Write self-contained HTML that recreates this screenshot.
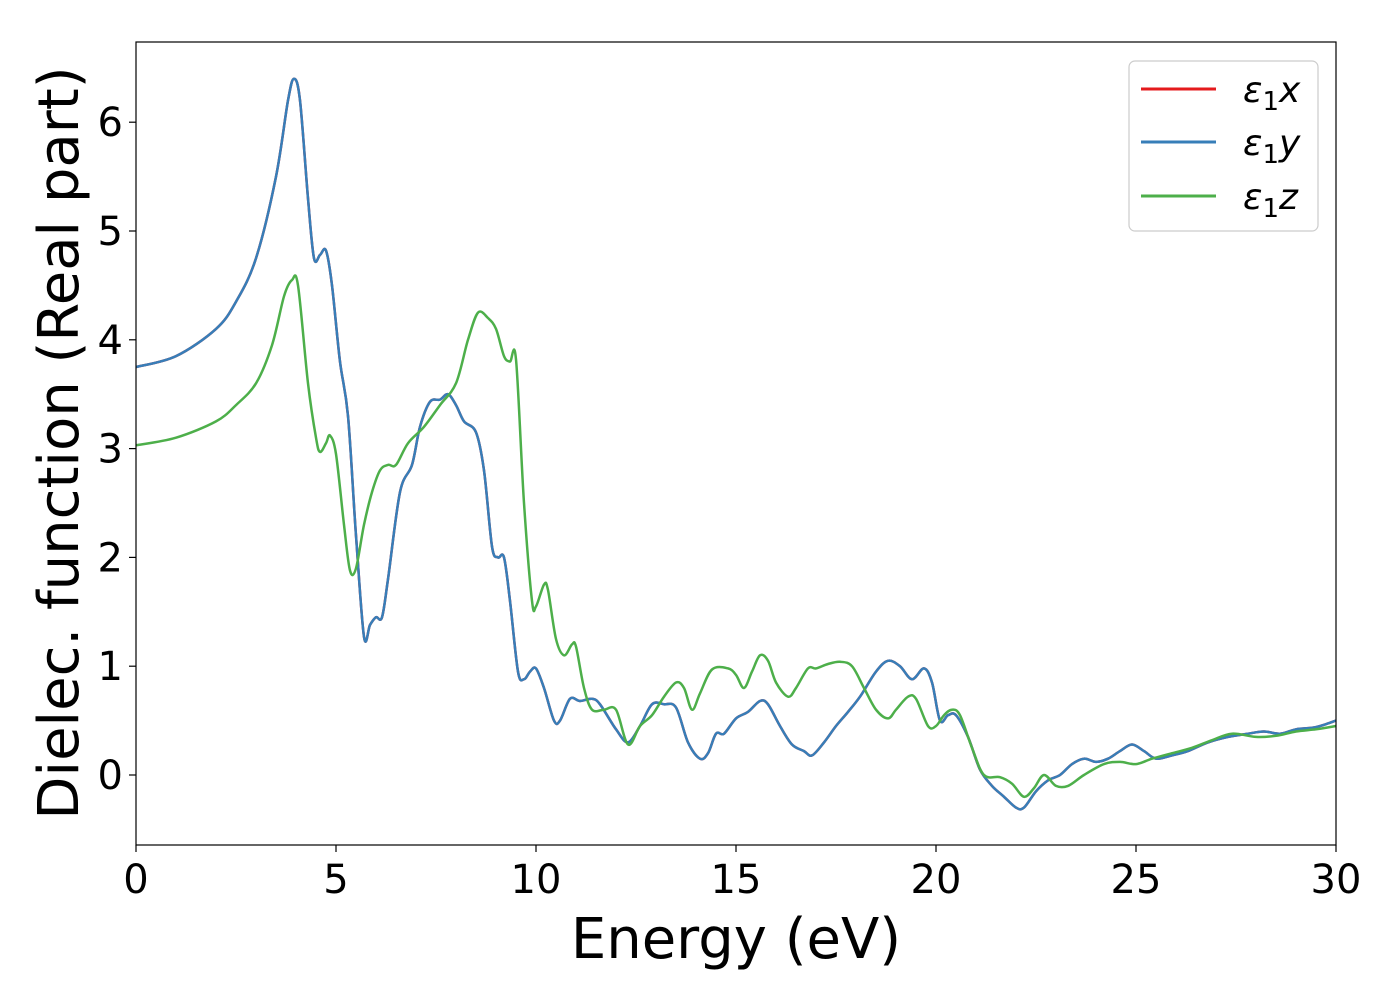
<!DOCTYPE html>
<html><head><meta charset="utf-8"><style>
body{margin:0;background:#fff;}
svg{display:block;font-family:"DejaVu Sans","Liberation Sans",sans-serif;}
</style></head><body>
<svg id="chart" width="1400" height="1000" viewBox="0 0 1400 1000">
<rect x="0" y="0" width="1400" height="1000" fill="#fff"/>
<g id="series"></g>
<rect x="136" y="42" width="1200" height="803" fill="none" stroke="#000" stroke-width="1.2"/>
<g id="xticks"></g>
<g id="yticks"></g>
<text x="736" y="958" font-size="56" text-anchor="middle">Energy (eV)</text>
<text transform="translate(78,443) rotate(-90)" font-size="56" text-anchor="middle">Dielec. function (Real part)</text>
<g>
<rect x="1129" y="61" width="189" height="170" rx="6" fill="#fff" stroke="#ccc" stroke-width="1.2"/>
<line x1="1141" y1="89" x2="1216" y2="89" stroke="#e41a1c" stroke-width="3"/>
<text x="1243" y="102" font-size="36" font-style="italic">ε<tspan font-style="normal" font-size="26" dy="8">1</tspan><tspan dy="-8">x</tspan></text>
<line x1="1141" y1="142" x2="1216" y2="142" stroke="#377eb8" stroke-width="3"/>
<text x="1243" y="155" font-size="36" font-style="italic">ε<tspan font-style="normal" font-size="26" dy="8">1</tspan><tspan dy="-8">y</tspan></text>
<line x1="1141" y1="196" x2="1216" y2="196" stroke="#4daf4a" stroke-width="3"/>
<text x="1243" y="209" font-size="36" font-style="italic">ε<tspan font-style="normal" font-size="26" dy="8">1</tspan><tspan dy="-8">z</tspan></text>
</g>
</svg>
<script>
const xTicks=[0,5,10,15,20,25,30];
const yTicks=[0,1,2,3,4,5,6];
const energyXY=[0,1,2,2.5,3,3.5,3.8,3.95,4.1,4.3,4.45,4.6,4.75,4.9,5.1,5.3,5.5,5.7,5.85,6.0,6.15,6.3,6.6,6.9,7.1,7.35,7.6,7.8,8.0,8.2,8.5,8.7,8.9,9.05,9.2,9.35,9.55,9.7,9.85,10.0,10.2,10.45,10.6,10.85,11.1,11.4,11.6,12.0,12.3,12.6,12.9,13.2,13.5,13.8,14.1,14.3,14.5,14.7,15.0,15.3,15.6,15.8,16.1,16.4,16.7,16.9,17.2,17.5,17.8,18.1,18.5,18.8,19.1,19.4,19.7,19.9,20.1,20.3,20.5,20.8,21.1,21.4,21.7,22.0,22.2,22.5,22.8,23.1,23.4,23.7,24.0,24.3,24.6,24.9,25.2,25.5,25.9,26.3,26.8,27.3,27.8,28.2,28.6,29.0,29.5,30];
const eps1y=[3.75,3.85,4.1,4.35,4.75,5.5,6.2,6.4,6.2,5.3,4.75,4.78,4.82,4.5,3.8,3.3,2.2,1.27,1.38,1.45,1.45,1.8,2.6,2.85,3.2,3.43,3.45,3.5,3.4,3.25,3.15,2.8,2.1,2.0,2.0,1.6,0.95,0.88,0.95,0.98,0.8,0.5,0.5,0.7,0.68,0.7,0.65,0.42,0.3,0.45,0.65,0.65,0.62,0.3,0.15,0.2,0.38,0.38,0.52,0.58,0.68,0.65,0.45,0.28,0.22,0.18,0.3,0.45,0.58,0.72,0.95,1.05,1.0,0.88,0.98,0.85,0.5,0.55,0.55,0.35,0.05,-0.1,-0.2,-0.3,-0.3,-0.15,-0.05,0.0,0.1,0.15,0.12,0.15,0.22,0.28,0.22,0.15,0.18,0.22,0.3,0.35,0.38,0.4,0.38,0.42,0.44,0.5];
const eps1x=eps1y.slice();
const energyZ=[0,1,2,2.5,3,3.4,3.7,3.9,4.05,4.3,4.5,4.6,4.75,4.85,5.0,5.2,5.35,5.5,5.7,5.9,6.1,6.3,6.5,6.8,7.2,7.6,8.0,8.3,8.55,8.8,9.0,9.2,9.35,9.5,9.7,9.9,10.0,10.2,10.3,10.5,10.7,10.9,11.0,11.2,11.4,11.7,12.0,12.3,12.6,12.9,13.2,13.5,13.7,13.9,14.1,14.4,14.8,15.0,15.2,15.4,15.6,15.8,16.0,16.3,16.5,16.8,17.0,17.3,17.6,17.9,18.2,18.5,18.8,19.0,19.3,19.5,19.8,20.0,20.2,20.4,20.6,20.9,21.2,21.6,21.9,22.2,22.45,22.7,23.0,23.3,23.7,24.2,24.6,25.0,25.4,25.9,26.4,26.9,27.4,28.0,28.5,29.0,29.5,30];
const eps1z=[3.03,3.1,3.25,3.4,3.6,3.95,4.4,4.55,4.5,3.6,3.1,2.97,3.05,3.12,2.95,2.3,1.88,1.9,2.3,2.6,2.8,2.85,2.85,3.05,3.2,3.4,3.6,4.0,4.25,4.2,4.1,3.85,3.8,3.82,2.5,1.6,1.55,1.75,1.7,1.25,1.1,1.2,1.18,0.8,0.6,0.6,0.6,0.28,0.45,0.55,0.72,0.85,0.8,0.6,0.75,0.97,0.98,0.92,0.8,0.95,1.1,1.05,0.85,0.72,0.8,0.98,0.98,1.02,1.04,1.0,0.8,0.6,0.52,0.6,0.72,0.7,0.45,0.45,0.55,0.6,0.55,0.25,0.0,-0.02,-0.08,-0.2,-0.12,0.0,-0.1,-0.1,0.0,0.1,0.12,0.1,0.15,0.2,0.25,0.32,0.38,0.35,0.36,0.4,0.42,0.45];

const NS='http://www.w3.org/2000/svg';
const X0=136,X1=1336,XMIN=0,XMAX=30;
const Y0=775,YUNIT=108.8;
const sx=v=>X0+(v-XMIN)/(XMAX-XMIN)*(X1-X0);
const sy=v=>Y0-v*YUNIT;

function mk(tag,attrs,parent){const e=document.createElementNS(NS,tag);for(const k in attrs)e.setAttribute(k,attrs[k]);parent.appendChild(e);return e;}

const xg=document.getElementById('xticks');
xTicks.forEach(t=>{
  const l=mk('line',{x1:sx(t),x2:sx(t),y1:845,y2:852,stroke:'#000','stroke-width':1.2},xg);
  
  
  const tx=mk('text',{x:sx(t),y:893,'font-size':40,'text-anchor':'middle'},xg);
  tx.textContent=t;
  
  
});
const yg=document.getElementById('yticks');
yTicks.forEach(t=>{
  const l=mk('line',{x1:129,x2:136,y1:sy(t),y2:sy(t),stroke:'#000','stroke-width':1.2},yg);
  
  
  const tx=mk('text',{x:123,y:sy(t)+14,'font-size':40,'text-anchor':'end'},yg);
  tx.textContent=t;
  
  
});

function pathFor(xs,ys){
  const p=xs.map((x,i)=>[sx(x),sy(ys[i])]);
  let d='M'+p[0][0].toFixed(1)+','+p[0][1].toFixed(1);
  for(let i=0;i<p.length-1;i++){
    const a=p[Math.max(0,i-1)],b=p[i],c=p[i+1],e=p[Math.min(p.length-1,i+2)];
    const c1=[b[0]+(c[0]-a[0])/6,b[1]+(c[1]-a[1])/6];
    const c2=[c[0]-(e[0]-b[0])/6,c[1]-(e[1]-b[1])/6];
    d+=' C'+c1[0].toFixed(1)+','+c1[1].toFixed(1)+' '+c2[0].toFixed(1)+','+c2[1].toFixed(1)+' '+c[0].toFixed(1)+','+c[1].toFixed(1);
  }
  return d;
}
const sg=document.getElementById('series');
const px=mk('path',{d:pathFor(energyXY,eps1x),fill:'none',stroke:'#e41a1c','stroke-width':2.5},sg);


const py=mk('path',{d:pathFor(energyXY,eps1y),fill:'none',stroke:'#377eb8','stroke-width':2.5},sg);


const pz=mk('path',{d:pathFor(energyZ,eps1z),fill:'none',stroke:'#4daf4a','stroke-width':2.5},sg);


</script>
</body></html>
